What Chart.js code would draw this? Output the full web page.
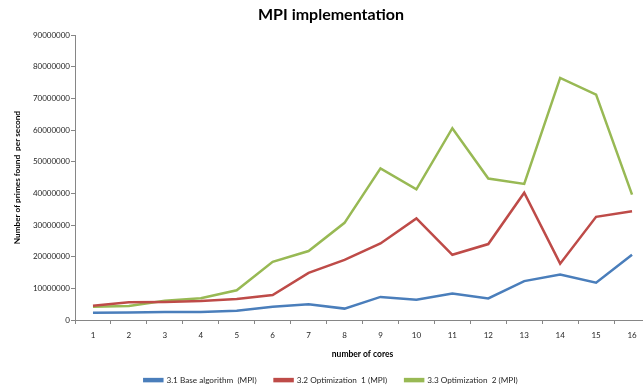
<!DOCTYPE html>
<html>
<head>
<meta charset="utf-8">
<script src="https://cdn.jsdelivr.net/npm/chart.js@4/dist/chart.umd.min.js"></script>
<style>
html, body { margin: 0; padding: 0; background: #fff; overflow: hidden; width: 643px; height: 388px; }
#wrap { width: 650px; height: 388px; }
canvas { display: block; }
</style>
</head>
<body>
<div id="wrap"><canvas id="c" width="650" height="388"></canvas></div>
<script>
const categories = ['1','2','3','4','5','6','7','8','9','10','11','12','13','14','15','16'];
const baseAlgorithm = [2300000, 2400000, 2500000, 2500000, 2900000, 4200000, 5000000, 3600000, 7300000, 6400000, 8400000, 6800000, 12300000, 14400000, 11800000, 20600000];
const optimization1 = [4500000, 5600000, 5700000, 6000000, 6600000, 7900000, 14900000, 19000000, 24200000, 32100000, 20600000, 24000000, 40200000, 17800000, 32600000, 34400000];
const optimization2 = [4200000, 4400000, 6100000, 6900000, 9400000, 18400000, 21800000, 30700000, 47900000, 41300000, 60600000, 44700000, 43000000, 76500000, 71200000, 39600000];
const seriesNames = ['3.1 Base algorithm  (MPI)', '3.2 Optimization  1 (MPI)', '3.3 Optimization  2 (MPI)'];
const seriesColors = ['#4a7ebb', '#be4b48', '#98b954'];
const chartTitle = 'MPI implementation';
const xTitle = 'number of cores';
const yTitle = 'Number of primes found  per second';

const FONT = 'Lato, "Open Sans", sans-serif';
const AXIS = '#868686';
const TXT = '#262626';

function ds(label, data, color) {
  return { label, data, borderColor: color, backgroundColor: color, borderWidth: 2.5,
    pointRadius: 0, pointHoverRadius: 0, tension: 0, fill: false };
}

new Chart(document.getElementById('c'), {
  type: 'line',
  data: {
    labels: categories,
    datasets: [
      ds(seriesNames[0], baseAlgorithm, seriesColors[0]),
      ds(seriesNames[1], optimization1, seriesColors[1]),
      ds(seriesNames[2], optimization2, seriesColors[2])
    ]
  },
  options: {
    responsive: false,
    animation: false,
    devicePixelRatio: 1,
    layout: { padding: { left: 12, right: 0, top: 0, bottom: 0 } },
    plugins: {
      title: { display: true, text: chartTitle, color: '#000', font: { family: FONT, size: 16, weight: 'bold' }, padding: { top: 5, bottom: 11 } },
      legend: {
        position: 'bottom',
        maxHeight: 30,
        labels: { color: TXT, font: { family: FONT, size: 8.2 }, boxWidth: 18, boxHeight: 2, padding: 18 }
      },
      tooltip: { enabled: false }
    },
    scales: {
      x: {
        offset: true,
        afterFit: (s) => { s.height = 38; },
        grid: { offset: true, drawOnChartArea: false, drawTicks: true, tickLength: 4, color: AXIS },
        border: { color: AXIS, width: 1 },
        ticks: { color: TXT, font: { family: FONT, size: 8 }, padding: 7, maxRotation: 0, autoSkip: false },
        title: { display: true, text: xTitle, color: '#000', font: { family: FONT, size: 8.5, weight: 'bold' }, padding: { top: 1, bottom: -1 } }
      },
      y: {
        min: 0, max: 90000000,
        afterFit: (s) => { s.width = 63; },
        grid: { drawOnChartArea: false, drawTicks: true, tickLength: 4, color: AXIS },
        border: { color: AXIS, width: 1 },
        ticks: { stepSize: 10000000, color: TXT, font: { family: FONT, size: 8 }, padding: 1,
          callback: (v) => String(v) },
        title: { display: true, text: yTitle, color: '#000', font: { family: FONT, size: 8.2, weight: 'bold' }, padding: { top: 0, bottom: 0 } }
      }
    }
  }
});
</script>
</body>
</html>
